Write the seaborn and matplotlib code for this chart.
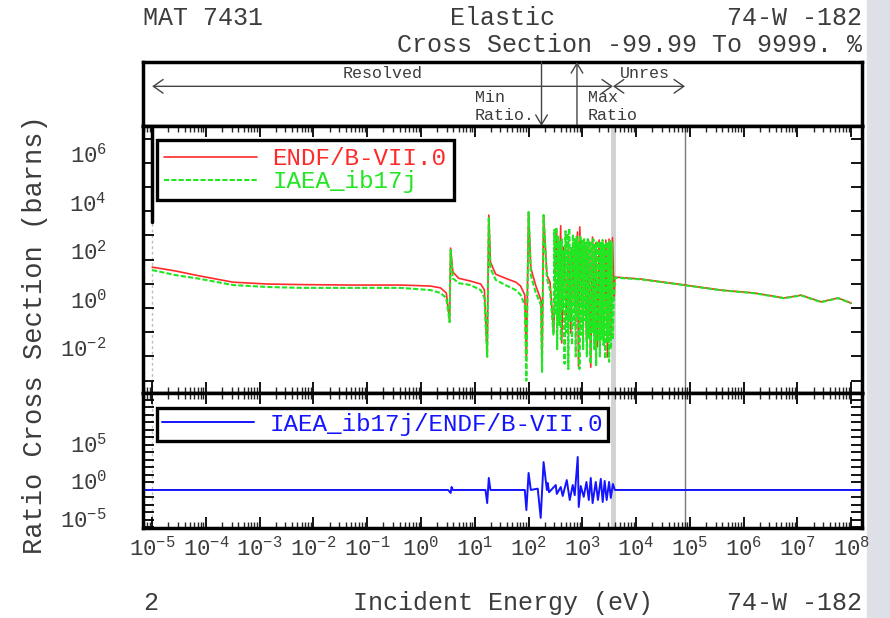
import numpy as np
import pandas as pd
import matplotlib
matplotlib.use("Agg")
import matplotlib.pyplot as plt
from matplotlib.patches import Rectangle
from matplotlib.ticker import LogLocator, NullFormatter
import seaborn as sns

# ---------------- values ----------------
endf_energy_eV = [
    1.0e-5, 2.7e-5, 7.8e-5, 3.2e-4, 1.4e-3, 5.8e-3, 4.9e-2, 0.42, 1.5, 2.3, 2.95, 3.4, 3.55, 3.9, 5.0,
    8.3, 12.9, 15.1, 17.0, 18.2, 19.5, 24.5, 37, 58, 71, 85, 91, 100, 110, 135, 170, 178, 190, 219, 251,
    293, 330, 359, 396, 413, 451, 506, 551, 608, 655, 721, 811, 846, 895, 1005, 1109, 1192, 1300, 1433,
    1542, 1652, 1775, 1910, 2046, 2202, 2367, 2535, 2728, 2934, 3141, 3378, 3630, 3890,
    4010, 1.22e4, 8.1e4, 3.8e5, 1.55e6, 5.6e6, 1.17e7, 2.75e7, 5.7e7, 1.0e8]
endf_xs_barns = [
    49, 34, 21, 11.7, 9.8, 9.3, 8.9, 8.9, 8.1, 6.8, 4.2, 0.32, 300, 31, 17,
    13, 9.8, 5.5, 0.0115, 6900, 79, 25, 17, 11.7, 8.1, 3.5, 0.0071, 8500, 45, 8.9, 2.1, 0.0044, 6900, 23, 11.7,
    0.093, 1900, 0.83, 2500, 0.036, 331, 0.32, 520, 0.093, 251, 1.1, 1380, 0.0040, 2240, 0.43, 251, 0.048, 645, 0.0036,
    851, 0.16, 490, 0.025, 645, 0.093, 400, 0.036, 640, 0.0095, 700, 0.048, 800, 2.1,
    19, 15.8, 8.9, 5.5, 4.2, 2.6, 3.4, 1.8, 2.6, 1.6]

iaea_energy_eV = [
    1.0e-5, 2.7e-5, 7.8e-5, 3.2e-4, 1.4e-3, 5.8e-3, 4.9e-2, 0.42, 1.5, 2.3, 2.95, 3.4, 3.55, 3.9, 5.0,
    8.3, 12.9, 15.1, 17.0, 18.2, 19.5, 24.5, 37, 58, 71, 85, 91, 100, 110, 135, 170, 178, 190, 219, 251,
    290, 302, 314, 327, 340, 354, 368, 383, 399, 415,
    432, 449, 467, 486, 506, 527, 548, 570, 593, 617,
    642, 668, 695, 723, 753, 783, 815, 848, 882, 918,
    955, 994, 1034, 1076, 1120, 1165, 1212, 1261, 1312, 1365,
    1421, 1478, 1538, 1600, 1665, 1733, 1803, 1876, 1952, 2031,
    2113, 2199, 2288, 2380, 2477, 2577, 2681, 2790, 2903, 3020,
    3143, 3270, 3402, 3540, 3683, 3830,
    4010, 1.22e4, 8.1e4, 3.8e5, 1.55e6, 5.6e6, 1.17e7, 2.75e7, 5.7e7, 1.0e8]
iaea_xs_barns = [
    37, 23, 16, 8.9, 7.4, 6.8, 6.8, 6.8, 5.5, 4.2, 2.6, 0.26, 250, 17, 10.7,
    8.9, 5.5, 2.6, 0.0096, 5750, 45, 14.5, 8.9, 5.5, 3.5, 1.3, 0.0010, 9300, 23, 4.6, 1.3, 0.0023, 6900, 17, 5.5,
    0.08, 1700, 0.5, 2200, 0.02, 900, 0.2, 600, 0.05, 700,
    0.9, 250, 0.005, 1500, 0.1, 1200, 0.003, 2000, 0.3, 300,
    0.03, 1100, 0.2, 700, 0.01, 900, 0.4, 500, 0.003, 1000,
    0.08, 600, 0.02, 700, 0.3, 500, 0.01, 800, 0.06, 600,
    0.005, 500, 0.1, 700, 0.02, 450, 0.004, 600, 0.05, 550,
    0.01, 500, 0.05, 650, 0.03, 400, 0.008, 550, 0.04, 480,
    0.006, 600, 0.02, 500, 0.05, 1.5,
    18, 15.3, 8.7, 5.4, 4.1, 2.55, 3.3, 1.75, 2.55, 1.55]

ratio_energy_eV = [
    6.3e-6, 3.2, 3.55, 3.7, 3.9, 15.8, 17.0, 18.2, 19.5, 85, 91, 100, 110, 148, 168, 190, 219, 227, 240,
    320, 335, 396, 431, 513, 583, 662, 721, 820, 857, 933, 1060, 1192, 1318, 1433, 1550, 1775, 1950,
    2202, 2390, 2600, 2830, 3141, 3378, 3700, 4010, 1.6e8]
ratio_values = [
    1.0, 1.0, 0.4, 2.5, 1.0, 1.0, 0.018, 40, 1.0, 1.0, 0.0021, 185, 1.0, 1.5, 1.9e-4, 5300, 1.0, 8.5, 0.5,
    4.6, 0.3, 2.5, 0.16, 21, 0.046, 4.6, 0.2, 2.5e4, 0.0054, 3.4, 0.12, 11.7, 0.046, 40, 0.018, 11.7, 0.046,
    30, 0.025, 16, 0.046, 11.7, 0.086, 6.3, 1.0, 1.0]

x_tick_exponents = list(range(-5, 9))
xs_tick_exponents = list(range(-3, 8))
xs_label_exponents = [-2, 0, 2, 4, 6]
ratio_tick_exponents = list(range(-5, 13))
ratio_label_exponents = [-5, 0, 5]

resolved_start_eV = 1.0e-5
resolved_end_eV = 3.7e3
unresolved_end_eV = 8.1e4
min_ratio_eV = 174.0
max_ratio_eV = 794.0

endf_df = pd.DataFrame({"E": endf_energy_eV, "xs": endf_xs_barns})
iaea_df = pd.DataFrame({"E": iaea_energy_eV, "xs": iaea_xs_barns})
ratio_df = pd.DataFrame({"E": ratio_energy_eV, "r": ratio_values})

# ---------------- style ----------------
sns.set_theme(style="white")
plt.rcParams["font.family"] = ["Liberation Mono", "DejaVu Sans Mono"]
plt.rcParams["mathtext.fontset"] = "custom"
plt.rcParams["mathtext.rm"] = "Liberation Mono"
plt.rcParams["mathtext.it"] = "Liberation Mono"
plt.rcParams["mathtext.bf"] = "Liberation Mono:bold"
TXT = "#3c3c3c"

W, H = 890, 618
fig = plt.figure(figsize=(8.9, 6.18), dpi=100)
fig.patches.append(Rectangle((867 / W, 0), 23 / W, 1, transform=fig.transFigure,
                             color="#dde1e7", zorder=-5))


def box(x0, y0, x1, y1):
    return [x0 / W, 1 - y1 / H, (x1 - x0) / W, (y1 - y0) / H]


ax_top = fig.add_axes(box(143, 62, 862, 126))
ax_main = fig.add_axes(box(143, 126, 862, 393))
ax_ratio = fig.add_axes(box(143, 393, 862, 528))

XLIM = (10 ** -5.17, 10 ** 8.2)
for ax in (ax_top, ax_main, ax_ratio):
    ax.set_xscale("log")
    ax.set_xlim(*XLIM)
    for s in ax.spines.values():
        s.set_linewidth(2.5)
        s.set_color("black")
    ax.set_facecolor("white")

# ---------------- main panel ----------------
for ax in (ax_main, ax_ratio):
    ax.axvline(resolved_start_eV, color="#bdbdbd", lw=1.0, ls=(0, (2, 2)), zorder=0.5)
    ax.axvline(resolved_end_eV, color="#d2d2d2", lw=3.5, zorder=0.5)
    ax.axvline(unresolved_end_eV, color="#7a7a7a", lw=1.0, zorder=0.5)
ax_main.axvline(resolved_start_eV, ymin=0.64, ymax=1.0, color="black", lw=2.5, zorder=0.6)

sns.lineplot(data=endf_df, x="E", y="xs", ax=ax_main, color="#ff2a2a", lw=1.2,
             estimator=None, sort=False, label="ENDF/B-VII.0")
sns.lineplot(data=iaea_df, x="E", y="xs", ax=ax_main, color="#22e622", lw=1.5,
             linestyle=(0, (2.5, 1)), estimator=None, sort=False, label="IAEA_ib17j")
ax_main.set_yscale("log")
ax_main.set_ylim(10 ** -3.51, 10 ** 7.52)
ax_main.set_xlabel("")
ax_main.set_ylabel("")

ax_main.set_yticks([10.0 ** k for k in xs_tick_exponents],
                   labels=[(r"$10^{%d}$" % k) if k in xs_label_exponents else "" for k in xs_tick_exponents])
ax_main.yaxis.set_minor_locator(matplotlib.ticker.NullLocator())

LEG_FS = 17.5
leg = ax_main.legend(loc="upper left", bbox_to_anchor=(0.0195, 0.948), borderaxespad=0,
                     frameon=True, fancybox=False, edgecolor="black", framealpha=1,
                     prop={"size": LEG_FS}, handlelength=3.8, handletextpad=0.65,
                     labelspacing=0.0, borderpad=0.3, labelcolor="linecolor")
leg.get_frame().set_linewidth(2.4)

# ---------------- ratio panel ----------------
sns.lineplot(data=ratio_df, x="E", y="r", ax=ax_ratio, color="#1414ff", lw=1.4,
             estimator=None, sort=False, label="IAEA_ib17j/ENDF/B-VII.0")
ax_ratio.set_yscale("log")
ax_ratio.set_ylim(10 ** -5.07, 10 ** 12.93)
ax_ratio.set_xlabel("")
ax_ratio.set_ylabel("")
ax_ratio.set_yticks([10.0 ** k for k in ratio_tick_exponents],
                    labels=[(r"$10^{%d}$" % k) if k in ratio_label_exponents else "" for k in ratio_tick_exponents])
ax_ratio.yaxis.set_minor_locator(matplotlib.ticker.NullLocator())
leg2 = ax_ratio.legend(loc="upper left", bbox_to_anchor=(0.0195, 0.889), borderaxespad=0,
                       frameon=True, fancybox=False, edgecolor="black", framealpha=1,
                       prop={"size": LEG_FS}, handlelength=3.8, handletextpad=0.65,
                       borderpad=0.2, labelcolor="linecolor")
leg2.get_frame().set_linewidth(2.4)

# ---------------- x ticks ----------------
for ax in (ax_main, ax_ratio):
    ax.xaxis.set_major_locator(matplotlib.ticker.FixedLocator([10.0 ** k for k in x_tick_exponents]))
    ax.xaxis.set_minor_locator(LogLocator(base=10, subs=np.arange(2, 10), numticks=100))
    ax.xaxis.set_minor_formatter(NullFormatter())
    ax.tick_params(axis="both", which="major", direction="in", length=8, width=1.3,
                   top=True, bottom=True, left=True, right=True, colors="black",
                   labelcolor=TXT, labelsize=16)
    ax.tick_params(axis="x", which="minor", direction="in", length=4, width=1.0,
                   top=True, bottom=True)
    ax.tick_params(axis="y", which="major", pad=26)
ax_main.tick_params(axis="x", labelbottom=False)
ax_ratio.set_xticks([10.0 ** k for k in x_tick_exponents],
                    labels=[r"$10^{%d}$" % k for k in x_tick_exponents])
ax_ratio.tick_params(axis="x", which="major", pad=6)
for ax in (ax_main, ax_ratio):
    for lab in ax.get_yticklabels():
        lab.set_verticalalignment("baseline")

# ---------------- top box ----------------
ax_top.set_ylim(0, 1)
ax_top.set_xticks([])
ax_top.set_yticks([])
ax_top.minorticks_off()
TOP_FS = 12
arrow_kw = dict(arrowstyle="<->,head_length=0.5,head_width=0.35", color="#444444", lw=1.0,
                shrinkA=0, shrinkB=0, mutation_scale=14)
ax_top.annotate("", xy=(resolved_start_eV, 0.62), xytext=(resolved_end_eV, 0.62), arrowprops=arrow_kw)
ax_top.annotate("", xy=(resolved_end_eV, 0.62), xytext=(unresolved_end_eV, 0.62), arrowprops=arrow_kw)
ax_top.text(np.sqrt(resolved_start_eV * resolved_end_eV), 0.82, "Resolved", ha="center", va="center",
            fontsize=TOP_FS, color=TXT)
ax_top.text(1.45e4, 0.82, "Unres", ha="center", va="center", fontsize=TOP_FS, color=TXT)
ax_top.annotate("", xy=(min_ratio_eV, 0.0), xytext=(min_ratio_eV, 1.0),
                arrowprops=dict(arrowstyle="->,head_length=0.5,head_width=0.3", color="#444444", lw=1.0,
                                shrinkA=0, shrinkB=0, mutation_scale=14))
ax_top.annotate("", xy=(max_ratio_eV, 1.0), xytext=(max_ratio_eV, 0.0),
                arrowprops=dict(arrowstyle="->,head_length=0.5,head_width=0.3", color="#444444", lw=1.0,
                                shrinkA=0, shrinkB=0, mutation_scale=14))
ax_top.annotate("Min", xy=(min_ratio_eV, 0.44), xytext=(-48, 0), textcoords="offset points",
                ha="left", va="center", fontsize=TOP_FS, color=TXT)
ax_top.annotate("Ratio.", xy=(min_ratio_eV, 0.17), xytext=(-48, 0), textcoords="offset points",
                ha="left", va="center", fontsize=TOP_FS, color=TXT)
ax_top.annotate("Max", xy=(max_ratio_eV, 0.44), xytext=(8, 0), textcoords="offset points",
                ha="left", va="center", fontsize=TOP_FS, color=TXT)
ax_top.annotate("Ratio", xy=(max_ratio_eV, 0.17), xytext=(8, 0), textcoords="offset points",
                ha="left", va="center", fontsize=TOP_FS, color=TXT)

# ---------------- header / footer text ----------------
FS = 18
fig.text(143 / W, 1 - 18 / H, "MAT 7431", ha="left", va="center", fontsize=FS, color=TXT)
fig.text(503 / W, 1 - 18 / H, "Elastic", ha="center", va="center", fontsize=FS, color=TXT)
fig.text(862 / W, 1 - 18 / H, "74-W -182", ha="right", va="center", fontsize=FS, color=TXT)
fig.text(862 / W, 1 - 45 / H, "Cross Section -99.99 To 9999. %", ha="right", va="center",
         fontsize=FS, color=TXT)
fig.text(143 / W, 1 - 603 / H, "2", ha="left", va="center", fontsize=FS, color=TXT)
fig.text(503 / W, 1 - 603 / H, "Incident Energy (eV)", ha="center", va="center", fontsize=FS, color=TXT)
fig.text(862 / W, 1 - 603 / H, "74-W -182", ha="right", va="center", fontsize=FS, color=TXT)
fig.text(35 / W, 1 - 335 / H, "Ratio Cross Section (barns)", ha="center", va="center",
         rotation=90, fontsize=19.5, color=TXT)

fig.savefig("out.png", dpi=100, facecolor="white")
